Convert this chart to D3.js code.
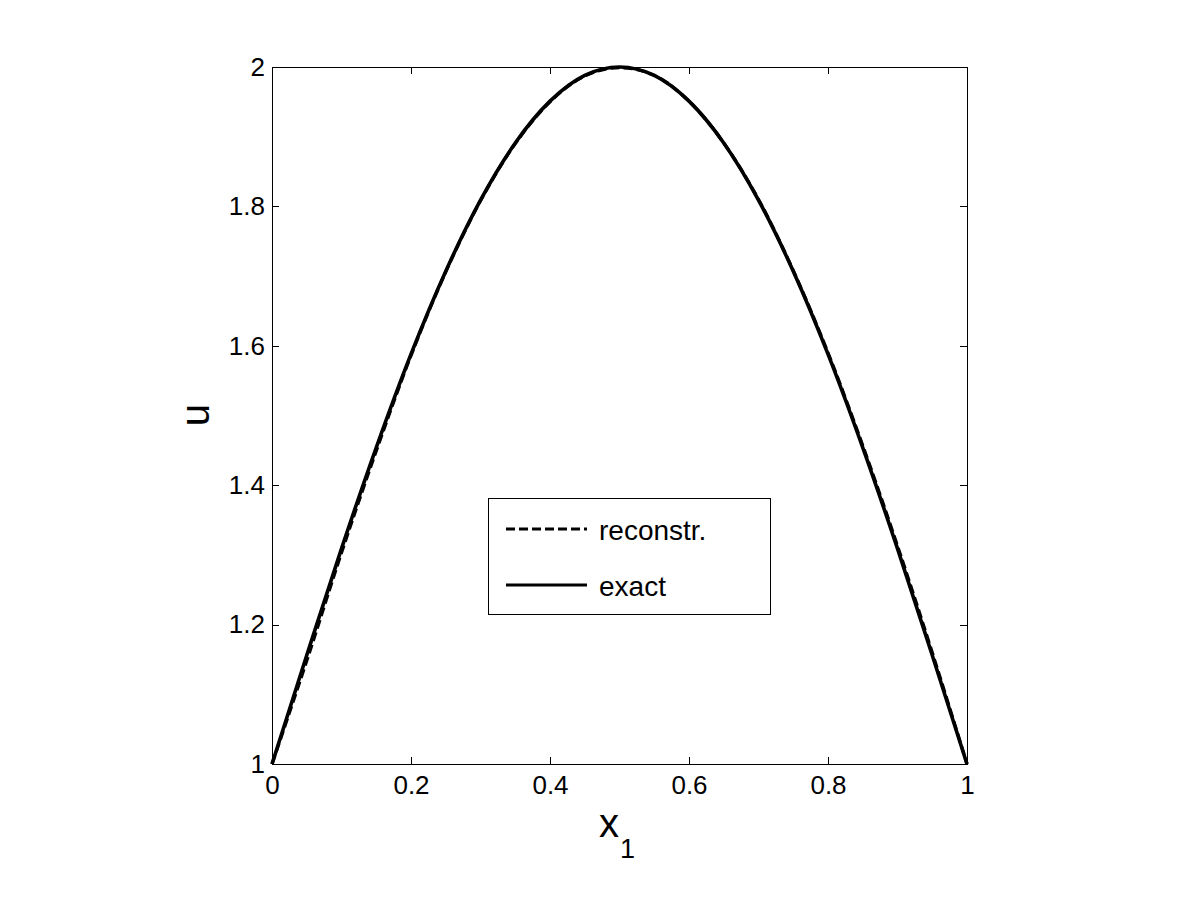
<!DOCTYPE html>
<html>
<head>
<meta charset="utf-8">
<script src="https://d3js.org/d3.v7.min.js"></script>
<style>
  html, body { margin: 0; padding: 0; background: #fff; }
  svg { display: block; font-family: "Liberation Sans", Arial, Helvetica, sans-serif; }
</style>
</head>
<body>
<svg id="chart" width="1200" height="900"></svg>
<script>
// ---- data ----
const xValues = [0, 0.05, 0.1, 0.15, 0.2, 0.25, 0.3, 0.35, 0.4, 0.45, 0.5,
                 0.55, 0.6, 0.65, 0.7, 0.75, 0.8, 0.85, 0.9, 0.95, 1];
const exactValues = [1.000, 1.156, 1.309, 1.454, 1.588, 1.707, 1.809, 1.891, 1.951, 1.988, 2.000,
                     1.988, 1.951, 1.891, 1.809, 1.707, 1.588, 1.454, 1.309, 1.156, 1.000];
const reconstrValues = [1.000, 1.148, 1.303, 1.449, 1.586, 1.706, 1.808, 1.890, 1.950, 1.987, 1.999,
                        1.988, 1.951, 1.891, 1.810, 1.708, 1.590, 1.457, 1.313, 1.160, 1.000];
const xTicks = [0, 0.2, 0.4, 0.6, 0.8, 1];
const yTicks = [1, 1.2, 1.4, 1.6, 1.8, 2];
const legendLabels = ["reconstr.", "exact"];

// ---- layout ----
const svg = d3.select("#chart");
const pLeft = 272, pRight = 967, pTop = 67, pBottom = 764;
const x = d3.scaleLinear().domain([0, 1]).range([pLeft, pRight]);
const y = d3.scaleLinear().domain([1, 2]).range([pBottom, pTop]);
const tickLen = 7;
const tickFont = 26;

// frame
svg.append("rect")
  .attr("x", pLeft).attr("y", pTop)
  .attr("width", pRight - pLeft).attr("height", pBottom - pTop)
  .attr("fill", "none").attr("stroke", "#000").attr("stroke-width", 1)
  .attr("shape-rendering", "crispEdges");

// axes (inner ticks, mirrored)
const fmt = d => d3.format("~g")(d);
const axB = svg.append("g").attr("transform", `translate(0,${pBottom})`)
  .call(d3.axisBottom(x).tickValues(xTicks).tickSize(-tickLen).tickPadding(12).tickFormat(fmt));
const axT = svg.append("g").attr("transform", `translate(0,${pTop})`)
  .call(d3.axisTop(x).tickValues(xTicks).tickSize(-tickLen).tickFormat(""));
const axL = svg.append("g").attr("transform", `translate(${pLeft},0)`)
  .call(d3.axisLeft(y).tickValues(yTicks).tickSize(-tickLen).tickPadding(7).tickFormat(fmt));
const axR = svg.append("g").attr("transform", `translate(${pRight},0)`)
  .call(d3.axisRight(y).tickValues(yTicks).tickSize(-tickLen).tickFormat(""));
[axB, axT, axL, axR].forEach(a => {
  a.select(".domain").remove();
  a.selectAll("line").attr("stroke", "#000").attr("shape-rendering", "crispEdges");
  a.selectAll("text").attr("font-size", tickFont).attr("fill", "#000")
    .attr("font-family", '"Liberation Sans", Arial, sans-serif');
});
axB.selectAll("text").attr("dy", "0.71em");

// curves
const line = d3.line().x(d => x(d[0])).y(d => y(d[1])).curve(d3.curveMonotoneX);
const exactData = xValues.map((v, i) => [v, exactValues[i]]);
const reconData = xValues.map((v, i) => [v, reconstrValues[i]]);

svg.append("path").datum(exactData).attr("d", line)
  .attr("fill", "none").attr("stroke", "#000").attr("stroke-width", 3.6);
svg.append("path").datum(reconData).attr("d", line)
  .attr("fill", "none").attr("stroke", "#000").attr("stroke-width", 3.2)
  .attr("stroke-dasharray", "9,4");

// axis labels
const xl = svg.append("text").attr("x", 599).attr("y", 837)
  .attr("font-size", 40).attr("fill", "#000");
xl.append("tspan").text("x");
xl.append("tspan").attr("dy", 21).attr("dx", 1).attr("font-size", 27).text("1");

svg.append("text")
  .attr("transform", "translate(209,415) rotate(-90)")
  .attr("text-anchor", "middle")
  .attr("font-size", 40).attr("fill", "#000").text("u");

// legend
const lg = svg.append("g");
lg.append("rect").attr("x", 488).attr("y", 498).attr("width", 282).attr("height", 116)
  .attr("fill", "#fff").attr("stroke", "#000").attr("stroke-width", 1)
  .attr("shape-rendering", "crispEdges");
const legendY = [529, 585];
const legendDash = ["9,4", null];
legendLabels.forEach((lab, i) => {
  lg.append("line").attr("x1", 506).attr("x2", 587)
    .attr("y1", legendY[i]).attr("y2", legendY[i])
    .attr("stroke", "#000").attr("stroke-width", 3.2)
    .attr("stroke-dasharray", legendDash[i]);
  lg.append("text").attr("x", 599).attr("y", legendY[i] + 11)
    .attr("font-size", 28).attr("fill", "#000").text(lab);
});
</script>
</body>
</html>
